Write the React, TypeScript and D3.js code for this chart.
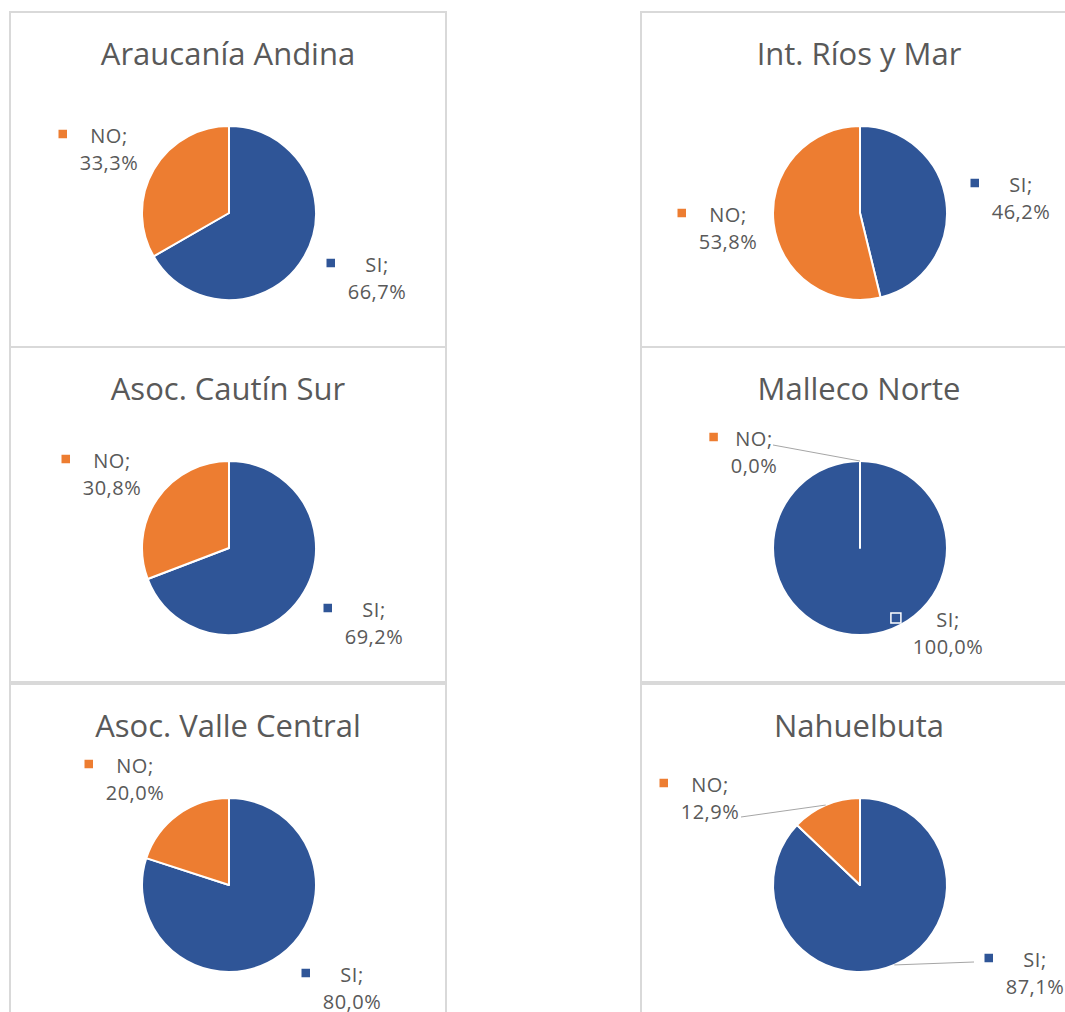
import React from "react";
import * as d3 from "d3";

// ---------- DATA ----------
const panelTitles = [
  "Araucanía Andina",
  "Int. Ríos y Mar",
  "Asoc. Cautín Sur",
  "Malleco Norte",
  "Asoc. Valle Central",
  "Nahuelbuta",
];
const categories = ["SI", "NO"];
const siValues = [66.7, 46.2, 69.2, 100.0, 80.0, 87.1];
const noValues = [33.3, 53.8, 30.8, 0.0, 20.0, 12.9];

// ---------- LAYOUT ----------
const W = 1065;
const H = 1012;
const colX = [10, 641];
const rowY = [12, 347, 684];
const panelW = 436;
const panelH = 335;
const pieOffX = 219;
const pieOffY = 201;
const radius = 87;
const colors: Record<string, string> = { SI: "#2F5597", NO: "#ED7D31" };
const textColor = "#595959";
const fontFamily = "'Open Sans', sans-serif";

// label offsets (first-line baseline, text-block centre) relative to pie centre
const labelOffsets: Record<string, [number, number]>[] = [
  { NO: [-120, -70], SI: [148, 59] },
  { NO: [-132, 9], SI: [161, -21] },
  { NO: [-117, -80], SI: [145, 69] },
  { NO: [-106, -102], SI: [88, 79] },
  { NO: [-94, -112], SI: [123, 97] },
  { NO: [-150, -93], SI: [175, 82] },
];
// leader line start points relative to pie centre (null = no leader)
const leaderStarts: Record<string, [number, number] | null>[] = [
  { NO: null, SI: null },
  { NO: null, SI: null },
  { NO: null, SI: null },
  { NO: [-87, -103], SI: null },
  { NO: null, SI: null },
  { NO: [-119, -68], SI: [114, 77] },
];

const fmt = (v: number) => v.toFixed(1).replace(".", ",") + "%";

export default function App() {
  const pie = d3
    .pie<{ cat: string; value: number }>()
    .sort(null)
    .value((d) => d.value);
  const arc = d3
    .arc<d3.PieArcDatum<{ cat: string; value: number }>>()
    .innerRadius(0)
    .outerRadius(radius);

  return (
    <svg
      width={W}
      height={H}
      style={{ position: "absolute", left: 0, top: 0, background: "#fff" }}
      fontFamily={fontFamily}
    >
      <rect x={0} y={0} width={W} height={H} fill="#fff" />
      {panelTitles.map((title, i) => {
        const col = i % 2;
        const row = Math.floor(i / 2);
        const px = colX[col];
        const py = rowY[row];
        const cx = px + pieOffX;
        const cy = py + pieOffY;
        const data = categories.map((cat) => ({
          cat,
          value: cat === "SI" ? siValues[i] : noValues[i],
        }));
        const arcs = pie(data);
        return (
          <g key={title}>
            <rect
              x={px}
              y={py}
              width={panelW}
              height={panelH}
              fill="#fff"
              stroke="#d9d9d9"
              strokeWidth={2}
            />
            <text
              x={cx - 1}
              y={py + 53}
              textAnchor="middle"
              fontSize={31}
              fill={textColor}
            >
              {title}
            </text>
            <g transform={`translate(${cx},${cy})`}>
              {arcs.map((a) => (
                <path
                  key={a.data.cat}
                  d={arc(a) || ""}
                  fill={colors[a.data.cat]}
                  stroke="#fff"
                  strokeWidth={2}
                  strokeLinejoin="round"
                />
              ))}
              {arcs.map((a) => {
                const start = leaderStarts[i][a.data.cat];
                if (!start) return null;
                const mid = (a.startAngle + a.endAngle) / 2;
                const ex = radius * Math.sin(mid);
                const ey = -radius * Math.cos(mid);
                return (
                  <line
                    key={"l" + a.data.cat}
                    x1={start[0]}
                    y1={start[1]}
                    x2={ex}
                    y2={ey}
                    stroke="#a6a6a6"
                    strokeWidth={1}
                  />
                );
              })}
              {arcs.map((a) => {
                const [dx, dy] = labelOffsets[i][a.data.cat];
                const valueText = fmt(a.data.value);
                const blockHalf = (valueText.length * 11.7) / 2;
                return (
                  <g key={"t" + a.data.cat}>
                    <rect
                      x={dx - blockHalf - 17 - 5}
                      y={dy - 14}
                      width={10}
                      height={10}
                      fill={colors[a.data.cat]}
                      stroke="#fff"
                      strokeWidth={1.5}
                    />
                    <text
                      x={dx}
                      y={dy}
                      textAnchor="middle"
                      fontSize={20}
                      letterSpacing={0.5}
                      fill={textColor}
                    >
                      {a.data.cat + ";"}
                    </text>
                    <text
                      x={dx}
                      y={dy + 27}
                      textAnchor="middle"
                      fontSize={20}
                      letterSpacing={0.5}
                      fill={textColor}
                    >
                      {valueText}
                    </text>
                  </g>
                );
              })}
            </g>
          </g>
        );
      })}
    </svg>
  );
}
